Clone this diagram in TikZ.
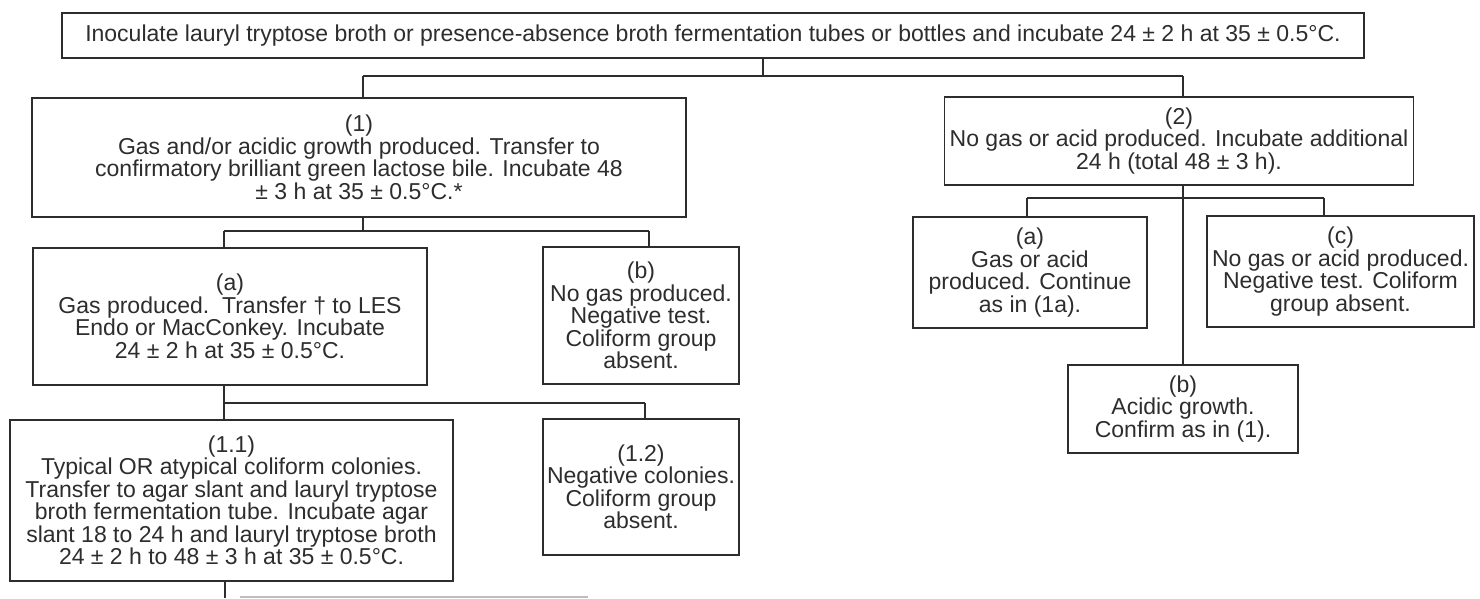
\documentclass[tikz,border=0pt]{standalone}
\usepackage{fontspec}
\setmainfont{Liberation Sans}
\definecolor{ink}{RGB}{45,45,45}
\definecolor{faint}{RGB}{190,190,190}
\begin{document}
\begin{tikzpicture}[x=1pt,y=-1pt,
  box/.style={draw=ink, line width=1.6pt, align=center, inner xsep=2pt, inner ysep=0pt,
    font=\fontsize{23}{22.5}\selectfont, text=ink},
  wire/.style={draw=ink, line width=1.5pt}]
\useasboundingbox[fill=white] (0,0) rectangle (1480,598);

% boxes
\node[box, minimum width=1302pt, minimum height=45pt] (top) at (713,35.5)
  {Inoculate lauryl tryptose broth or presence-absence broth fermentation tubes or bottles and incubate 24 ± 2 h at 35 ± 0.5°C.};
\node[box, minimum width=654pt, minimum height=119pt] (b1) at (359,157.5)
  {(1)\\Gas and/or acidic growth produced. Transfer to\\confirmatory brilliant green lactose bile. Incubate 48\\± 3 h at 35 ± 0.5°C.*};
\node[box, minimum width=469pt, minimum height=88pt] (b2) at (1179,141)
  {(2)\\No gas or acid produced. Incubate additional\\24 h (total 48 ± 3 h).};
\node[box, minimum width=394pt, minimum height=137pt] (b1a) at (230,316.5)
  {(a)\\Gas produced.\ \ Transfer † to LES\\Endo or MacConkey. Incubate\\24 ± 2 h at 35 ± 0.5°C.};
\node[box, minimum width=196pt, minimum height=137pt] (b1b) at (641,315.5)
  {(b)\\No gas produced.\\Negative test.\\Coliform group\\absent.};
\node[box, minimum width=443pt, minimum height=161pt] (b11) at (231.5,500.5)
  {(1.1)\\Typical OR atypical coliform colonies.\\Transfer to agar slant and lauryl tryptose\\broth fermentation tube. Incubate agar\\slant 18 to 24 h and lauryl tryptose broth\\24 ± 2 h to 48 ± 3 h at 35 ± 0.5°C.};
\node[box, minimum width=196pt, minimum height=136pt] (b12) at (641,487)
  {(1.2)\\Negative colonies.\\Coliform group\\absent.};
\node[box, minimum width=234pt, minimum height=111pt] (b2a) at (1030,272.5)
  {(a)\\Gas or acid\\produced. Continue\\as in (1a).};
\node[box, minimum width=267pt, minimum height=111pt] (b2c) at (1340.5,271.5)
  {(c)\\No gas or acid produced.\\Negative test. Coliform\\group absent.};
\node[box, minimum width=230pt, minimum height=88pt] (b2b) at (1183,409)
  {(b)\\Acidic growth.\\Confirm as in (1).};

% junctions
\coordinate (t0) at (763,76);
\coordinate (t1) at (363,76);
\coordinate (t2) at (1183,76);
\coordinate (p0) at (363,231);
\coordinate (p1) at (224,231);
\coordinate (p2) at (649,231);
\coordinate (q1) at (224,403);
\coordinate (q2) at (645,403);
\coordinate (r0) at (1183,198);
\coordinate (r1) at (1027,198);
\coordinate (r2) at (1324,198);
\coordinate (s0) at (225,598);
\coordinate (u1) at (240,597);
\coordinate (u2) at (588,597);

% connectors
\draw[wire] (top.south -| t0) -- (t0);
\draw[wire] (t1) -- (t2);
\draw[wire] (t1) -- (b1.north -| t1);
\draw[wire] (t2) -- (b2.north -| t2);

\draw[wire] (b1.south -| p0) -- (p0);
\draw[wire] (p1) -- (p2);
\draw[wire] (p1) -- (b1a.north -| p1);
\draw[wire] (p2) -- (b1b.north -| p2);

\draw[wire] (b1a.south -| q1) -- (q1);
\draw[wire] (q1) -- (q2);
\draw[wire] (q1) -- (b11.north -| q1);
\draw[wire] (q2) -- (b12.north -| q2);

\draw[wire] (b11.south -| s0) -- (s0);
\draw[draw=faint, line width=1.5pt] (u1) -- (u2);

\draw[wire] (b2.south -| r0) -- (b2b.north -| r0);
\draw[wire] (r1) -- (r2);
\draw[wire] (r1) -- (b2a.north -| r1);
\draw[wire] (r2) -- (b2c.north -| r2);
\end{tikzpicture}
\end{document}
